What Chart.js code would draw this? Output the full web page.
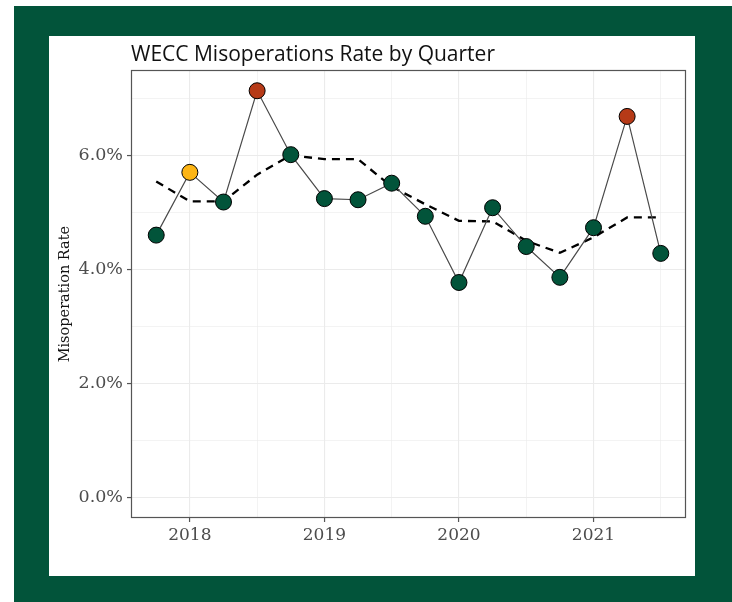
<!DOCTYPE html>
<html>
<head>
<meta charset="utf-8">
<script src="https://cdn.jsdelivr.net/npm/chart.js@4/dist/chart.umd.min.js"></script>
<style>
  html, body { margin: 0; padding: 0; background: #ffffff; }
  #frame { position: absolute; left: 14px; top: 6px; width: 718px; height: 596px; background: #02543A; }
  #panel { position: absolute; left: 49px; top: 36px; width: 646px; height: 540px; background: #ffffff; }
  #panel canvas { position: absolute; left: 0; top: 0; }
</style>
</head>
<body>
<div id="frame"></div>
<div id="panel"><canvas id="c" width="646" height="540"></canvas></div>
<script>
// ---- data ----
const quarters = ['2017 Q4','2018 Q1','2018 Q2','2018 Q3','2018 Q4','2019 Q1','2019 Q2','2019 Q3',
                  '2019 Q4','2020 Q1','2020 Q2','2020 Q3','2020 Q4','2021 Q1','2021 Q2','2021 Q3'];
const quarterX = [2017.75, 2018.0, 2018.25, 2018.5, 2018.75, 2019.0, 2019.25, 2019.5,
                  2019.75, 2020.0, 2020.25, 2020.5, 2020.75, 2021.0, 2021.25, 2021.5];
const misopRate = [4.60, 5.70, 5.18, 7.13, 6.01, 5.24, 5.22, 5.51, 4.93, 3.77, 5.08, 4.40, 3.86, 4.73, 6.68, 4.28];
const rollingAvg = [5.54, 5.19, 5.19, 5.66, 6.00, 5.93, 5.93, 5.45, 5.14, 4.85, 4.84, 4.50, 4.29, 4.56, 4.91, 4.91];
const pointStatus = ['normal','elevated','normal','high','normal','normal','normal','normal',
                     'normal','normal','normal','normal','normal','normal','high','normal'];
const xTickValues = [2018, 2018.5, 2019, 2019.5, 2020, 2020.5, 2021, 2021.5];
const xTickLabels = ['2018', '', '2019', '', '2020', '', '2021', ''];
const yTickValues = [0, 1, 2, 3, 4, 5, 6, 7];
const yTickLabels = ['0.0%', '', '2.0%', '', '4.0%', '', '6.0%', ''];

// ---- styles ----
const statusColor = { normal: '#02543A', elevated: '#FDB515', high: '#B63A17' };
const GRID = '#EBEBEB';
const AXIS_TEXT = '#4D4D4D';

const frameBorder = {
  id: 'frameBorder',
  afterDatasetsDraw(chart) {
    const a = chart.chartArea, ctx = chart.ctx;
    ctx.save();
    ctx.strokeStyle = '#555555';
    ctx.lineWidth = 1.2;
    ctx.strokeRect(Math.round(a.left) + 0.5, Math.round(a.top) + 0.5,
                   Math.round(a.right - a.left) - 1, Math.round(a.bottom - a.top) - 1);
    ctx.restore();
  }
};

new Chart(document.getElementById('c'), {
  type: 'line',
  data: {
    datasets: [
      {
        label: 'Rolling average',
        data: quarterX.map((x, i) => ({ x, y: rollingAvg[i] })),
        borderColor: '#000000',
        borderWidth: 2.3,
        borderDash: [8, 6],
        pointRadius: 0,
        fill: false,
        tension: 0,
        order: 2
      },
      {
        label: 'Misoperation Rate',
        data: quarterX.map((x, i) => ({ x, y: misopRate[i] })),
        borderColor: '#4A4A4A',
        borderWidth: 1.2,
        pointRadius: 8,
        pointHoverRadius: 8,
        pointBorderWidth: 1,
        pointBorderColor: '#000000',
        pointBackgroundColor: pointStatus.map(s => statusColor[s]),
        fill: false,
        tension: 0,
        order: 1
      }
    ]
  },
  options: {
    responsive: false,
    animation: false,
    events: [],
    layout: { padding: { left: 0, right: 8, top: 0, bottom: 0 } },
    plugins: {
      legend: { display: false },
      tooltip: { enabled: false },
      title: {
        display: true,
        text: 'WECC Misoperations Rate by Quarter',
        align: 'start',
        fullSize: false,
        color: '#111111',
        font: { family: '"Open Sans", sans-serif', size: 21, weight: 'normal' },
        padding: { top: 6, bottom: 3 }
      }
    },
    scales: {
      x: {
        type: 'linear',
        min: 2017.5625,
        max: 2021.6875,
        afterFit(s) { s.height = 58; },
        afterBuildTicks(s) { s.ticks = xTickValues.map(v => ({ value: v })); },
        ticks: {
          autoSkip: false,
          maxRotation: 0,
          padding: 3,
          color: AXIS_TEXT,
          font: { family: '"DejaVu Serif", serif', size: 17 },
          callback: (v, i) => xTickLabels[i]
        },
        grid: {
          color: ctx => GRID,
          lineWidth: ctx => (xTickLabels[ctx.index] ? 1.1 : 0.6),
          tickLength: 4,
          tickColor: ctx => (xTickLabels[ctx.index] ? '#555555' : 'rgba(0,0,0,0)'),
          tickWidth: 1.2
        },
        border: { display: false }
      },
      y: {
        type: 'linear',
        min: -0.357,
        max: 7.49,
        afterFit(s) { s.width = 82; },
        afterBuildTicks(s) { s.ticks = yTickValues.map(v => ({ value: v })); },
        ticks: {
          autoSkip: false,
          padding: 4,
          color: AXIS_TEXT,
          font: { family: '"DejaVu Serif", serif', size: 17.5 },
          callback: (v, i) => yTickLabels[i]
        },
        grid: {
          color: ctx => GRID,
          lineWidth: ctx => (yTickLabels[ctx.index] ? 1.1 : 0.6),
          tickLength: 4,
          tickColor: ctx => (yTickLabels[ctx.index] ? '#555555' : 'rgba(0,0,0,0)'),
          tickWidth: 1.2
        },
        border: { display: false },
        title: {
          display: true,
          text: 'Misoperation Rate',
          color: '#111111',
          font: { family: '"DejaVu Serif", serif', size: 14.5 },
          padding: { top: 8, bottom: 0 }
        }
      }
    }
  },
  plugins: [frameBorder]
});
</script>
</body>
</html>
